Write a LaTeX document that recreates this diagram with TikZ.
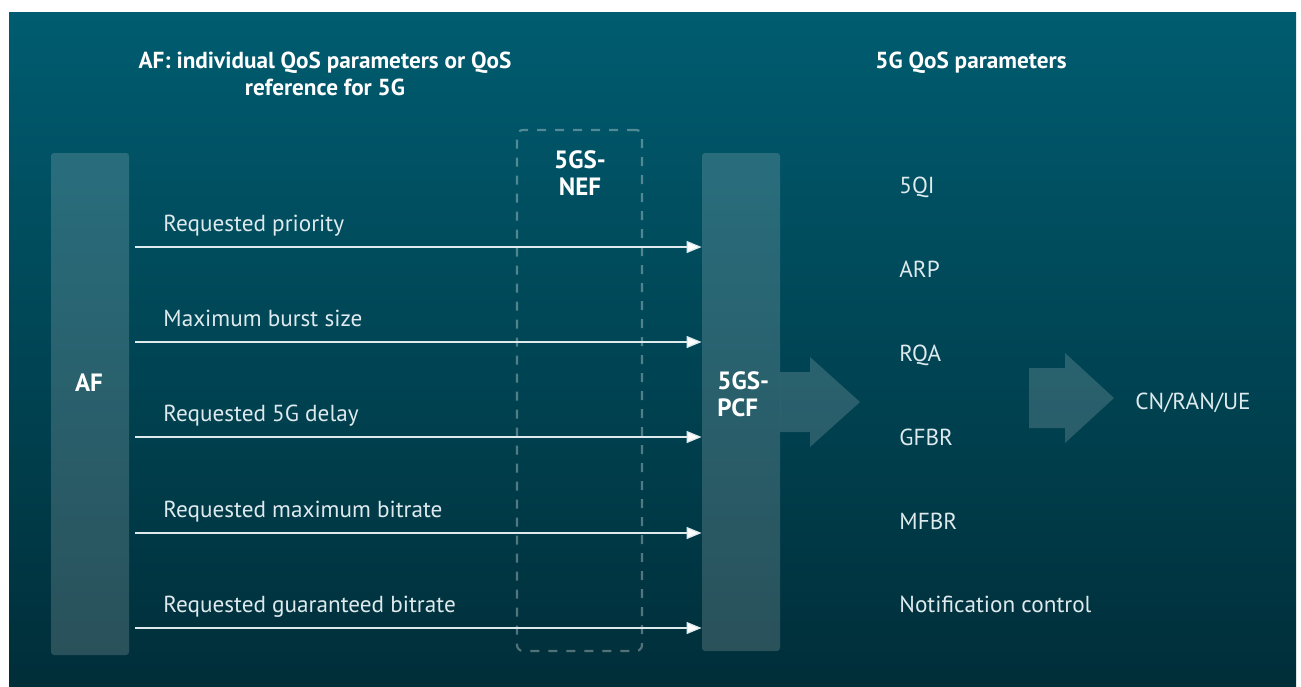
\documentclass[tikz,border=0pt]{standalone}
\usepackage{fontspec}
\setmainfont{PT Sans}
\usetikzlibrary{positioning, arrows.meta, shapes}
\definecolor{bgtop}{RGB}{0,92,112}
\definecolor{bgbot}{RGB}{0,46,57}
\definecolor{txt}{RGB}{222,234,237}
\tikzstyle{block} = [rectangle, rounded corners=1.5pt, fill=white, fill opacity=0.16, inner sep=0pt]
\tikzstyle{dashbox} = [rectangle, rounded corners=3pt, draw=white, draw opacity=0.32, line width=1.1pt, dash pattern=on 4.5pt off 4.5pt, inner sep=0pt]
\tikzstyle{bigarrow} = [fill=white, fill opacity=0.16]
\tikzstyle{arrow} = [draw=txt, line width=0.65pt, -{Triangle[length=7.5pt,width=6pt,fill=white]}]
\tikzstyle{param} = [anchor=base west, text=txt, inner sep=0pt, font=\fontsize{11.6}{13}\selectfont]
\tikzstyle{heading} = [text=white, inner sep=0pt, align=center, font=\bfseries\fontsize{11.6}{13.5}\selectfont]
\tikzstyle{boxlabel} = [text=white, inner sep=0pt, align=center, font=\bfseries\fontsize{12.5}{13.5}\selectfont]

\begin{document}
\begin{tikzpicture}[x=0.5pt, y=-0.5pt]
            \useasboundingbox (0,0) rectangle (1301,686);
            \shade[top color=bgtop, bottom color=bgbot] (9,12) rectangle (1296,686);

            % headings
            \node (afhead) [heading, anchor=north] at (325,52) {AF: individual QoS parameters or QoS\\reference for 5G};
            \node (qoshead) [heading, anchor=north] at (971,52) {5G QoS parameters};

            % functions
            \node (af) [block, minimum width=39pt, minimum height=251pt] at (90,404) {};
            \node (nef) [dashbox, minimum width=62.5pt, minimum height=260.5pt] at (579.5,390.5) {};
            \node (pcf) [block, minimum width=39pt, minimum height=249pt] at (741,402) {};
            \node (aflbl) [boxlabel] at (89,383) {AF};
            \node (neflbl) [boxlabel, anchor=north] at (580,150) {5GS-\\NEF};
            \node (pcflbl) [boxlabel, anchor=north west, align=left] at (717,371) {5GS-\\PCF};

            % big arrows
            \fill[bigarrow] (780,372) -- (810,372) -- (810,357) -- (860,402) -- (810,447) -- (810,432) -- (780,432) -- cycle;
            \fill[bigarrow] (1029,368) -- (1065,368) -- (1065,353) -- (1114,398) -- (1065,443) -- (1065,428) -- (1029,428) -- cycle;
            \node (out) [param, anchor=west] at (1135,403) {CN/RAN/UE};

            % requested parameters
            \coordinate (r1) at (135,247);
            \coordinate (r2) at (135,342);
            \coordinate (r3) at (135,437);
            \coordinate (r4) at (135,533);
            \coordinate (r5) at (135,628);
            \node (prio) [param] at (163,231) {Requested priority};
            \node (burst) [param] at (163,326) {Maximum burst size};
            \node (delay) [param] at (163,421) {Requested 5G delay};
            \node (mbr) [param] at (163,517) {Requested maximum bitrate};
            \node (gbr) [param] at (163,612) {Requested guaranteed bitrate};
            \draw [arrow] (r1) -- (r1 -| pcf.west);
            \draw [arrow] (r2) -- (r2 -| pcf.west);
            \draw [arrow] (r3) -- (r3 -| pcf.west);
            \draw [arrow] (r4) -- (r4 -| pcf.west);
            \draw [arrow] (r5) -- (r5 -| pcf.west);

            % 5G QoS parameters
            \node (qi) [param] at (899,193) {5QI};
            \node (arp) [param] at (899,277) {ARP};
            \node (rqa) [param] at (899,361) {RQA};
            \node (gfbr) [param] at (899,445) {GFBR};
            \node (mfbr) [param] at (899,529) {MFBR};
            \node (notif) [param] at (899,612) {Notification control};
\end{tikzpicture}
\end{document}
